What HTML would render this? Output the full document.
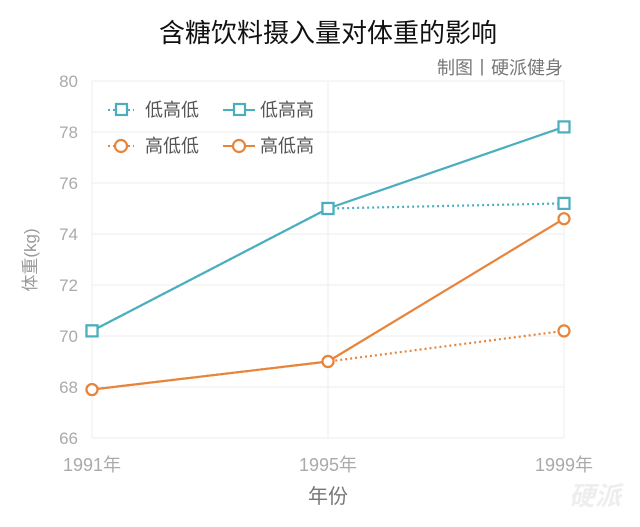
<!DOCTYPE html>
<html><head><meta charset="utf-8"><style>
body{margin:0;background:#fff;width:640px;height:522px;overflow:hidden;font-family:"Liberation Sans","Noto Sans CJK SC",sans-serif}
</style></head><body>
<svg id="chart" width="640" height="522" xmlns="http://www.w3.org/2000/svg" font-family="Liberation Sans, Noto Sans CJK SC, sans-serif">
<text x="328" y="42" text-anchor="middle" font-size="26" fill="#111">含糖饮料摄入量对体重的影响</text>
<text x="563" y="74" text-anchor="end" font-size="18" fill="#777">制图丨硬派健身</text>
<text transform="translate(36,260) rotate(-90)" text-anchor="middle" font-size="17" fill="#999">体重(kg)</text>
<text x="328" y="503" text-anchor="middle" font-size="20" fill="#777">年份</text>
<text x="595" y="505" text-anchor="middle" font-size="26" font-style="italic" font-weight="bold" fill="#eee">硬派</text>
<g id="grid"></g><g id="axes"></g><g id="series"></g>
<g font-size="18" fill="#555">
 <g><line x1="108" y1="110" x2="134" y2="110" stroke="#4aaebf" stroke-width="2" stroke-dasharray="2,3"/><rect x="116" y="104" width="11" height="11" fill="#fff" stroke="#4aaebf" stroke-width="2.2"/><text x="145" y="116">低高低</text></g>
 <g><line x1="223" y1="110" x2="255" y2="110" stroke="#4aaebf" stroke-width="2"/><rect x="234" y="104" width="11" height="11" fill="#fff" stroke="#4aaebf" stroke-width="2.2"/><text x="260" y="116">低高高</text></g>
 <g><line x1="108" y1="146" x2="134" y2="146" stroke="#e8843a" stroke-width="2" stroke-dasharray="2,3"/><circle cx="121" cy="146" r="6" fill="#fff" stroke="#e8843a" stroke-width="2.2"/><text x="145" y="152">高低低</text></g>
 <g><line x1="223" y1="146" x2="255" y2="146" stroke="#e8843a" stroke-width="2"/><circle cx="239" cy="146" r="6" fill="#fff" stroke="#e8843a" stroke-width="2.2"/><text x="260" y="152">高低高</text></g>
</g>
</svg>
<script>
const years=["1991年","1995年","1999年"];
const yTicks=[66,68,70,72,74,76,78,80];
const lowHighLow=[70.2,75.0,75.2];
const lowHighHigh=[70.2,75.0,78.2];
const highLowLow=[67.9,69.0,70.2];
const highLowHigh=[67.9,69.0,74.6];
const NS="http://www.w3.org/2000/svg";
const x0=92,x1=564,yTop=81,yBot=438,vmin=66,vmax=80;
const xs=i=>x0+(x1-x0)*i/(years.length-1);
const ys=v=>yBot-(v-vmin)/(vmax-vmin)*(yBot-yTop);
function mk(tag,attrs,parent){const e=document.createElementNS(NS,tag);for(const k in attrs)e.setAttribute(k,attrs[k]);parent.appendChild(e);return e;}
const grid=document.getElementById('grid'),axes=document.getElementById('axes'),ser=document.getElementById('series');
yTicks.forEach(t=>{
 const l=mk('line',{x1:x0,x2:x1,y1:ys(t),y2:ys(t),stroke:'#eee','stroke-width':1},grid);
 
 
 const tx=mk('text',{x:78,y:ys(t)+6,'text-anchor':'end','font-size':17,fill:'#aaa'},axes);
 tx.textContent=t;
 
 
});
years.forEach((y,i)=>{
 const l=mk('line',{x1:xs(i),x2:xs(i),y1:yTop,y2:yBot,stroke:'#eee','stroke-width':1},grid);
 
 
 const tx=mk('text',{x:xs(i),y:471,'text-anchor':'middle','font-size':18,fill:'#aaa'},axes);
 tx.textContent=y;
 
 
});
function draw(vals,color,dashed,marker,name){
 const g=mk('g',{},ser);
 
 
 const pts=vals.map((v,i)=>xs(i)+','+ys(v)).join(' ');
 const pl=mk('polyline',{points:pts,fill:'none',stroke:color,'stroke-width':2.2},g);
 if(dashed)pl.setAttribute('stroke-dasharray','2,3');
 
 
 vals.forEach((v,i)=>{
  let m;
  if(marker==='sq')m=mk('rect',{x:xs(i)-5.5,y:ys(v)-5.5,width:11,height:11,fill:'#fff',stroke:color,'stroke-width':2.2},g);
  else m=mk('circle',{cx:xs(i),cy:ys(v),r:5.5,fill:'#fff',stroke:color,'stroke-width':2.2},g);
  
  
 });
}
draw(lowHighLow,'#4aaebf',true,'sq','series-low-high-low');
draw(highLowLow,'#e8843a',true,'ci','series-high-low-low');
draw(lowHighHigh,'#4aaebf',false,'sq','series-low-high-high');
draw(highLowHigh,'#e8843a',false,'ci','series-high-low-high');
</script>
</body></html>
